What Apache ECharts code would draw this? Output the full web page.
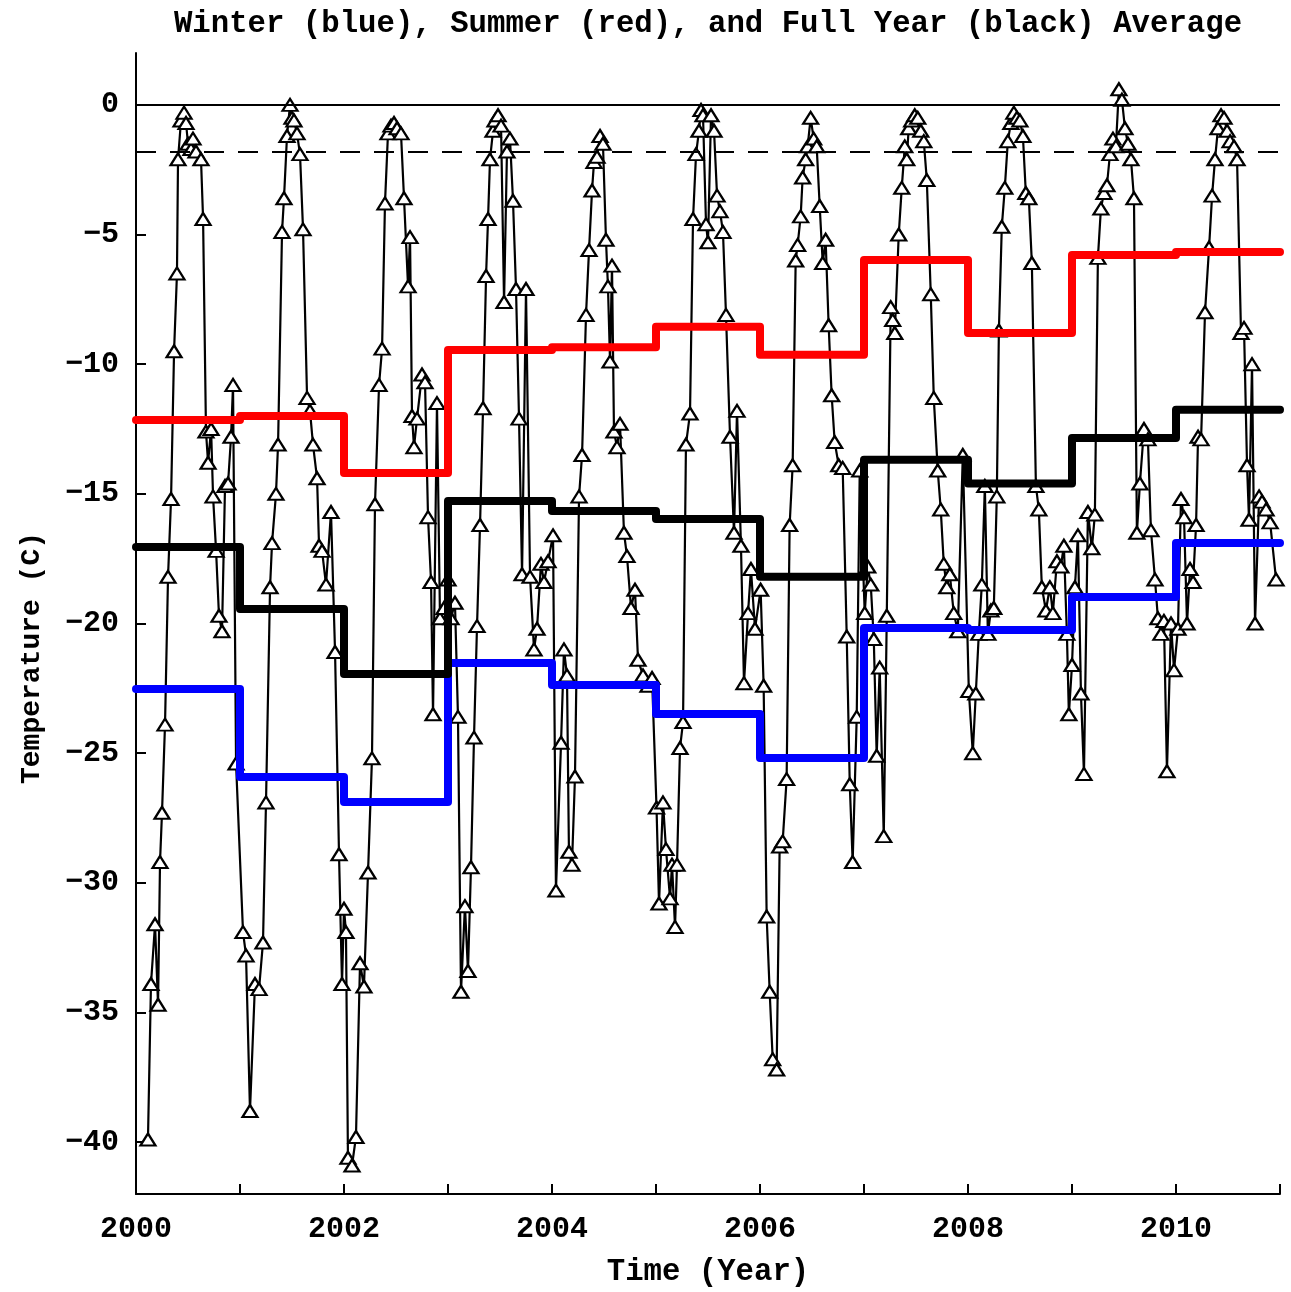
<!DOCTYPE html>
<html>
<head>
<meta charset="utf-8">
<title>Winter, Summer and Full Year Average</title>
<script src="https://cdn.jsdelivr.net/npm/echarts@6/dist/echarts.min.js"></script>
<style>
  html, body { margin: 0; padding: 0; background: #fff; }
  #chart { width: 1291px; height: 1292px; }
</style>
</head>
<body>
<div id="chart"></div>
<script>
// year starts for the step averages and the sample offsets
const years = [2000, 2001, 2002, 2003, 2004, 2005, 2006, 2007, 2008, 2009, 2010];

// yearly averages (C)
const winterAvg = [-22.53, -25.92, -26.88, -21.52, -22.37, -23.49, -25.19, -20.17, -20.25, -18.98, -16.9];
const summerAvg = [-12.15, -12.0, -14.2, -9.45, -9.35, -8.56, -9.64, -5.98, -8.8, -5.79, -5.67];
const yearAvg   = [-17.05, -19.44, -21.95, -15.28, -15.66, -15.97, -18.2, -13.69, -14.6, -12.85, -11.76];

// samples: [fraction of year, temperature C]
const obs2000 = [[0.115,-39.9],[0.144,-33.9],[0.183,-31.6],[0.212,-34.7],[0.231,-29.2],[0.250,-27.3],[0.279,-23.9],[0.308,-18.2],[0.337,-15.2],[0.366,-9.5],[0.394,-6.5],[0.404,-2.1],[0.433,-0.6],[0.462,-0.3],[0.481,-0.7],[0.500,-1.5],[0.529,-1.7],[0.548,-1.3],[0.577,-1.8],[0.625,-2.1],[0.645,-4.4],[0.673,-12.6],[0.693,-13.8],[0.722,-12.5],[0.741,-15.1],[0.770,-17.2],[0.798,-19.7],[0.827,-20.3],[0.856,-14.7],[0.885,-14.6],[0.914,-12.8],[0.933,-10.8],[0.962,-25.4]];
const obs2001 = [[0.029,-31.9],[0.058,-32.8],[0.096,-38.8],[0.144,-33.9],[0.183,-34.1],[0.221,-32.3],[0.250,-26.9],[0.289,-18.6],[0.308,-16.9],[0.346,-15.0],[0.366,-13.1],[0.404,-4.9],[0.423,-3.6],[0.452,-1.2],[0.481,0.0],[0.500,-0.5],[0.519,-0.6],[0.548,-1.1],[0.577,-1.9],[0.606,-4.8],[0.645,-11.3],[0.673,-11.8],[0.702,-13.1],[0.741,-14.4],[0.760,-17.0],[0.789,-17.2],[0.827,-18.5],[0.875,-15.7],[0.914,-21.1],[0.952,-28.9],[0.981,-33.9]];
const obs2002 = [[0.000,-31.0],[0.019,-31.9],[0.038,-40.6],[0.077,-40.9],[0.115,-39.8],[0.154,-33.1],[0.192,-34.0],[0.231,-29.6],[0.269,-25.2],[0.298,-15.4],[0.337,-10.8],[0.366,-9.4],[0.394,-3.8],[0.423,-1.1],[0.452,-0.8],[0.481,-0.7],[0.510,-0.9],[0.548,-1.1],[0.577,-3.6],[0.616,-7.0],[0.635,-5.1],[0.654,-12.0],[0.673,-13.2],[0.702,-12.1],[0.750,-10.4],[0.779,-10.7],[0.808,-15.9],[0.837,-18.4],[0.856,-23.5],[0.894,-11.5],[0.923,-19.8],[0.962,-19.4]];
const obs2003 = [[0.000,-18.3],[0.029,-19.8],[0.067,-19.2],[0.096,-23.6],[0.125,-34.2],[0.163,-30.9],[0.192,-33.4],[0.221,-29.4],[0.250,-24.4],[0.279,-20.1],[0.308,-16.2],[0.337,-11.7],[0.366,-6.6],[0.385,-4.4],[0.404,-2.1],[0.433,-1.0],[0.452,-0.6],[0.481,-0.4],[0.510,-0.8],[0.539,-7.6],[0.567,-1.8],[0.596,-1.3],[0.625,-3.7],[0.654,-7.1],[0.683,-12.1],[0.712,-18.1],[0.750,-7.1],[0.789,-18.2],[0.827,-21.0],[0.856,-20.2],[0.894,-17.7],[0.923,-18.4],[0.962,-17.6]];
const obs2004 = [[0.010,-16.6],[0.038,-30.3],[0.087,-24.6],[0.115,-21.0],[0.144,-22.0],[0.163,-28.8],[0.192,-29.3],[0.221,-25.9],[0.260,-15.1],[0.289,-13.5],[0.327,-8.1],[0.356,-5.6],[0.385,-3.3],[0.404,-2.2],[0.433,-2.0],[0.462,-1.2],[0.490,-1.5],[0.519,-5.2],[0.538,-7.0],[0.558,-9.9],[0.577,-6.2],[0.596,-12.6],[0.625,-13.2],[0.654,-12.3],[0.692,-16.5],[0.721,-17.4],[0.760,-19.4],[0.798,-18.7],[0.827,-21.4],[0.875,-22.0],[0.923,-22.4],[0.962,-22.1]];
const obs2005 = [[0.005,-27.1],[0.029,-30.8],[0.067,-26.9],[0.096,-28.7],[0.135,-30.6],[0.154,-29.3],[0.183,-31.7],[0.202,-29.3],[0.231,-24.8],[0.260,-23.8],[0.288,-13.1],[0.327,-11.9],[0.356,-4.4],[0.385,-1.9],[0.413,-1.0],[0.433,-0.2],[0.452,-0.4],[0.481,-4.6],[0.500,-5.3],[0.529,-0.4],[0.558,-1.0],[0.587,-3.5],[0.615,-4.1],[0.644,-4.9],[0.673,-8.1],[0.712,-12.8],[0.750,-16.5],[0.779,-11.8],[0.817,-17.0],[0.846,-22.3],[0.885,-19.6],[0.913,-17.9],[0.952,-20.2]];
const obs2006 = [[0.006,-18.7],[0.035,-22.4],[0.064,-31.3],[0.093,-34.2],[0.122,-36.8],[0.160,-37.2],[0.189,-28.6],[0.218,-28.4],[0.256,-26.0],[0.285,-16.2],[0.314,-13.9],[0.343,-6.0],[0.362,-5.4],[0.391,-4.3],[0.410,-2.8],[0.439,-2.1],[0.458,-1.6],[0.487,-0.5],[0.516,-1.3],[0.545,-1.6],[0.574,-3.9],[0.603,-6.1],[0.631,-5.2],[0.660,-8.5],[0.689,-11.2],[0.718,-13.0],[0.757,-13.9],[0.795,-14.0],[0.834,-20.5],[0.863,-26.2],[0.891,-29.2],[0.930,-23.6],[0.959,-14.1]];
const obs2007 = [[0.007,-19.6],[0.036,-17.8],[0.065,-18.5],[0.094,-20.6],[0.122,-25.1],[0.151,-21.7],[0.190,-28.2],[0.219,-19.7],[0.257,-7.8],[0.276,-8.3],[0.296,-8.8],[0.334,-5.0],[0.363,-3.2],[0.392,-1.6],[0.411,-2.1],[0.430,-0.9],[0.459,-0.6],[0.488,-0.4],[0.517,-0.5],[0.546,-1.0],[0.575,-1.4],[0.604,-2.9],[0.642,-7.3],[0.671,-11.3],[0.709,-14.1],[0.738,-15.6],[0.767,-17.7],[0.796,-18.6],[0.825,-18.1],[0.863,-19.6],[0.902,-20.3],[0.950,-13.5]];
const obs2008 = [[0.008,-22.6],[0.046,-25.0],[0.075,-22.7],[0.104,-20.4],[0.133,-18.5],[0.162,-14.7],[0.191,-20.4],[0.220,-19.5],[0.248,-19.4],[0.277,-15.1],[0.297,-8.7],[0.325,-4.7],[0.354,-3.2],[0.383,-1.4],[0.412,-0.7],[0.441,-0.3],[0.470,-0.5],[0.499,-0.6],[0.528,-1.2],[0.556,-3.4],[0.585,-3.6],[0.614,-6.1],[0.653,-14.7],[0.681,-15.6],[0.710,-18.6],[0.749,-19.5],[0.787,-18.6],[0.816,-19.6],[0.855,-17.6],[0.893,-17.8],[0.922,-17.0],[0.951,-20.4],[0.970,-23.5]];
const obs2009 = [[0.000,-21.6],[0.028,-18.6],[0.057,-16.6],[0.086,-22.7],[0.115,-25.8],[0.153,-15.7],[0.191,-17.1],[0.220,-15.8],[0.249,-5.9],[0.278,-4.0],[0.307,-3.4],[0.336,-3.1],[0.365,-1.9],[0.394,-1.3],[0.422,-1.6],[0.451,0.6],[0.480,0.2],[0.509,-0.9],[0.538,-1.5],[0.567,-2.1],[0.596,-3.6],[0.624,-16.5],[0.653,-14.6],[0.692,-12.5],[0.730,-12.9],[0.759,-16.4],[0.798,-18.3],[0.826,-19.8],[0.855,-20.4],[0.884,-19.9],[0.913,-25.7],[0.952,-20.0],[0.981,-21.8]];
const obs2010 = [[0.019,-20.2],[0.048,-15.2],[0.077,-15.9],[0.106,-20.0],[0.135,-17.9],[0.164,-18.4],[0.193,-16.2],[0.212,-12.8],[0.241,-12.9],[0.279,-8.0],[0.318,-5.5],[0.347,-3.5],[0.375,-2.1],[0.404,-0.9],[0.433,-0.4],[0.462,-0.5],[0.491,-1.0],[0.520,-1.4],[0.558,-1.6],[0.587,-2.1],[0.625,-8.8],[0.654,-8.6],[0.683,-13.9],[0.702,-16.0],[0.731,-10.0],[0.760,-20.0],[0.799,-15.1],[0.827,-15.3],[0.866,-15.6],[0.905,-16.1],[0.962,-18.3]];

const yTicks = [0, -5, -10, -15, -20, -25, -30, -35, -40];
const freezeLine = -1.8;

const obsByYear = [obs2000, obs2001, obs2002, obs2003, obs2004, obs2005, obs2006, obs2007, obs2008, obs2009, obs2010];

var samples = [];
years.forEach(function (y, i) {
  obsByYear[i].forEach(function (p) { samples.push([y + p[0], p[1]]); });
});

function stepData(vals) {
  var d = years.map(function (y, i) { return [y, vals[i]]; });
  d.push([years[years.length - 1] + 1, vals[vals.length - 1]]);
  return d;
}

var monoFont = '"Liberation Mono", "DejaVu Sans Mono", monospace';

var chart = echarts.init(document.getElementById('chart'));
var option = {
  animation: false,
  backgroundColor: '#fff',
  grid: { left: 136, right: 11, top: 53, bottom: 98 },
  xAxis: {
    type: 'value',
    min: 2000,
    max: 2011,
    interval: 1,
    splitLine: { show: false },
    axisLine: { onZero: false, lineStyle: { color: '#000', width: 2 } },
    axisTick: { inside: true, length: 10, lineStyle: { color: '#000', width: 2 } },
    axisLabel: {
      color: '#000', fontFamily: monoFont, fontWeight: 'bold', fontSize: 30, margin: 20,
      formatter: function (v) { return v % 2 === 0 ? String(v) : ''; }
    }
  },
  yAxis: {
    type: 'value',
    min: -42,
    max: 2,
    splitLine: { show: false },
    axisLine: { onZero: false, lineStyle: { color: '#000', width: 2 } },
    axisTick: { inside: true, length: 10, customValues: yTicks, lineStyle: { color: '#000', width: 2 } },
    axisLabel: {
      color: '#000', fontFamily: monoFont, fontWeight: 'bold', fontSize: 30, margin: 17,
      customValues: yTicks,
      formatter: function (v) { return String(v).replace('-', '\u2212'); }
    }
  },
  graphic: [
    { type: 'text', x: 708, y: 24, style: { text: 'Winter (blue), Summer (red), and Full Year (black) Average', font: 'bold 30.7px ' + monoFont, fill: '#000', textAlign: 'center', textVerticalAlign: 'middle' } },
    { type: 'text', x: 708, y: 1272, style: { text: 'Time (Year)', font: 'bold 30.7px ' + monoFont, fill: '#000', textAlign: 'center', textVerticalAlign: 'middle' } },
    { type: 'text', x: 32, y: 658, rotation: Math.PI / 2, style: { text: 'Temperature (C)', font: 'bold 28px ' + monoFont, fill: '#000', textAlign: 'center', textVerticalAlign: 'middle' } }
  ],
  series: [
    {
      name: 'samples',
      type: 'line',
      data: samples,
      symbol: 'triangle',
      symbolSize: [15, 12],
      lineStyle: { color: '#000', width: 2.2 },
      itemStyle: { color: '#fff', borderColor: '#000', borderWidth: 2.2 },
      z: 2,
      markLine: {
        silent: true,
        symbol: 'none',
        label: { show: false },
        data: [
          { yAxis: 0, lineStyle: { color: '#000', width: 2, type: 'solid' } },
          { yAxis: freezeLine, lineStyle: { color: '#000', width: 2, type: [20, 14] } }
        ]
      }
    },
    { name: 'winter', type: 'line', step: 'end', data: stepData(winterAvg), showSymbol: false, lineStyle: { color: '#0000ff', width: 8, join: 'round', cap: 'round' }, z: 3 },
    { name: 'summer', type: 'line', step: 'end', data: stepData(summerAvg), showSymbol: false, lineStyle: { color: '#ff0000', width: 8, join: 'round', cap: 'round' }, z: 3 },
    { name: 'year', type: 'line', step: 'end', data: stepData(yearAvg), showSymbol: false, lineStyle: { color: '#000', width: 8, join: 'round', cap: 'round' }, z: 3 }
  ]
};
chart.setOption(option);
</script>
</body>
</html>
